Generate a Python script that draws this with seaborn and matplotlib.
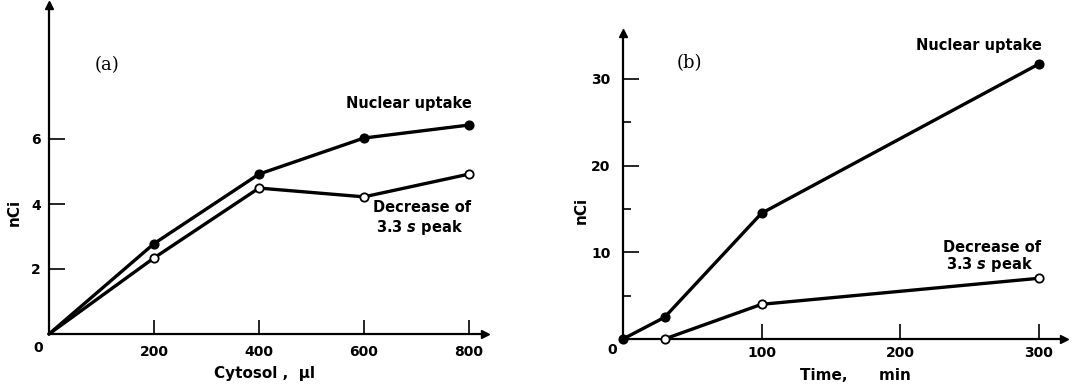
import matplotlib
matplotlib.use("Agg")
import matplotlib.pyplot as plt
import seaborn as sns
import pandas as pd

# ---- data ----
cytosol = [0, 200, 400, 600, 800]
nuclear_a = [0, 2.78, 4.92, 6.03, 6.43]
decrease_a = [0, 2.34, 4.49, 4.22, 4.92]

time_nuc = [0, 30, 100, 300]
nuclear_b = [0, 2.5, 14.5, 31.7]
time_dec = [30, 100, 300]
decrease_b = [0, 4.0, 7.0]

xticks_a = [200, 400, 600, 800]
yticks_a = [2, 4, 6]
xticks_b = [100, 200, 300]
yticks_b = [10, 20, 30]
yminor_b = [5, 15, 25]

sns.set_theme(style="white")
plt.rcParams['font.family'] = ['DejaVu Sans']
plt.rcParams['font.weight'] = 'bold'
plt.rcParams['text.color'] = 'black'
plt.rcParams['axes.labelcolor'] = 'black'
plt.rcParams['xtick.color'] = 'black'
plt.rcParams['ytick.color'] = 'black'

fig = plt.figure(figsize=(10.92, 3.89), dpi=100)
ax_a = fig.add_axes([49/1092, (389-334)/389, (485-49)/1092, (334-5)/389])
ax_b = fig.add_axes([623/1092, (389-339)/389, (1064-623)/1092, (339-33)/389])

dfa = pd.DataFrame({"x": cytosol, "nuc": nuclear_a, "dec": decrease_a})
dfbn = pd.DataFrame({"x": time_nuc, "y": nuclear_b})
dfbd = pd.DataFrame({"x": time_dec, "y": decrease_b})

lw = 2.4
ms = 6.0
common = dict(color="black", lw=lw, marker="o", ms=ms, mec="black", mew=1.3, clip_on=False, zorder=5)

sns.lineplot(data=dfa, x="x", y="nuc", ax=ax_a, mfc="black", markevery=[1, 2, 3, 4], **common)
sns.lineplot(data=dfa, x="x", y="dec", ax=ax_a, mfc="white", markevery=[1, 2, 3, 4], **common)
sns.lineplot(data=dfbn, x="x", y="y", ax=ax_b, mfc="black", **common)
sns.lineplot(data=dfbd, x="x", y="y", ax=ax_b, mfc="white", **common)

ax_a.set_xlim(0, (485-49)/0.525)
ax_a.set_ylim(0, 329/32.5)
ax_b.set_xlim(0, 441/1.385)
ax_b.set_ylim(0, 306/8.67)

for ax in (ax_a, ax_b):
    sns.despine(ax=ax)
    for s in ("left", "bottom"):
        ax.spines[s].set_linewidth(1.6)
        ax.spines[s].set_color("black")
    ax.plot(1, 0, ">", color="black", ms=6, transform=ax.transAxes, clip_on=False)
    ax.plot(0, 1, "^", color="black", ms=6, transform=ax.transAxes, clip_on=False)
    ax.tick_params(axis="both", which="major", direction="in", color="black",
                   width=1.2, labelsize=10, labelcolor="black", bottom=True, left=True)
    ax.set_facecolor("white")
    ax.grid(False)

# panel a ticks
ax_a.set_xticks(xticks_a)
ax_a.set_yticks(yticks_a)
ax_a.tick_params(axis="x", length=10, pad=8)
ax_a.tick_params(axis="y", length=11.5, pad=6)
ax_a.annotate("0", (0, 0), xytext=(-11, -14), textcoords="offset pixels",
              ha="center", va="center", fontsize=10, fontweight="bold")
ax_a.set_xlabel("Cytosol ,  μl", fontsize=11, fontweight="bold")
ax_a.xaxis.set_label_coords(0.495, -0.119)
ax_a.xaxis.label.set_va("center")
ax_a.set_ylabel("nCi", fontsize=11, fontweight="bold")
ax_a.yaxis.set_label_coords(-0.08, 0.368)
ax_a.yaxis.label.set_va("center")

# panel b ticks
ax_b.set_xticks(xticks_b)
ax_b.set_yticks(yticks_b)
ax_b.set_yticks(yminor_b, minor=True)
ax_b.tick_params(axis="x", length=11, pad=5)
ax_b.tick_params(axis="y", length=11.5, pad=9)
ax_b.tick_params(axis="y", which="minor", direction="in", length=6, width=1.2, color="black", left=True)
ax_b.annotate("0", (0, 0), xytext=(-11, -11), textcoords="offset pixels",
              ha="center", va="center", fontsize=10, fontweight="bold")
ax_b.set_xlabel("Time,      min", fontsize=11, fontweight="bold")
ax_b.xaxis.set_label_coords(0.528, -0.118)
ax_b.xaxis.label.set_va("center")
ax_b.set_ylabel("nCi", fontsize=11, fontweight="bold")
ax_b.yaxis.set_label_coords(-0.095, 0.42)
ax_b.yaxis.label.set_va("center")

tkw = dict(fontsize=10.5, fontweight="bold", va="center", ha="left", color="black")
# annotations a
ax_a.text(110, 8.28, "(a)", fontsize=13, fontfamily="DejaVu Serif", fontweight="normal", ha="center", va="center")
ax_a.text(566, 7.08, "Nuclear uptake", **tkw)
ax_a.text(617, 3.88, "Decrease of", **tkw)
ax_a.text(623, 3.29, "3.3 $\\mathit{s}$ peak", **tkw)
# annotations b
ax_b.text(47.7, 31.8, "(b)", fontsize=13, fontfamily="DejaVu Serif", fontweight="normal", ha="center", va="center")
ax_b.text(211.6, 33.9, "Nuclear uptake", **tkw)
ax_b.text(231, 10.6, "Decrease of", **tkw)
ax_b.text(233, 8.65, "3.3 $\\mathit{s}$ peak", **tkw)

fig.savefig("out.png", dpi=100)
